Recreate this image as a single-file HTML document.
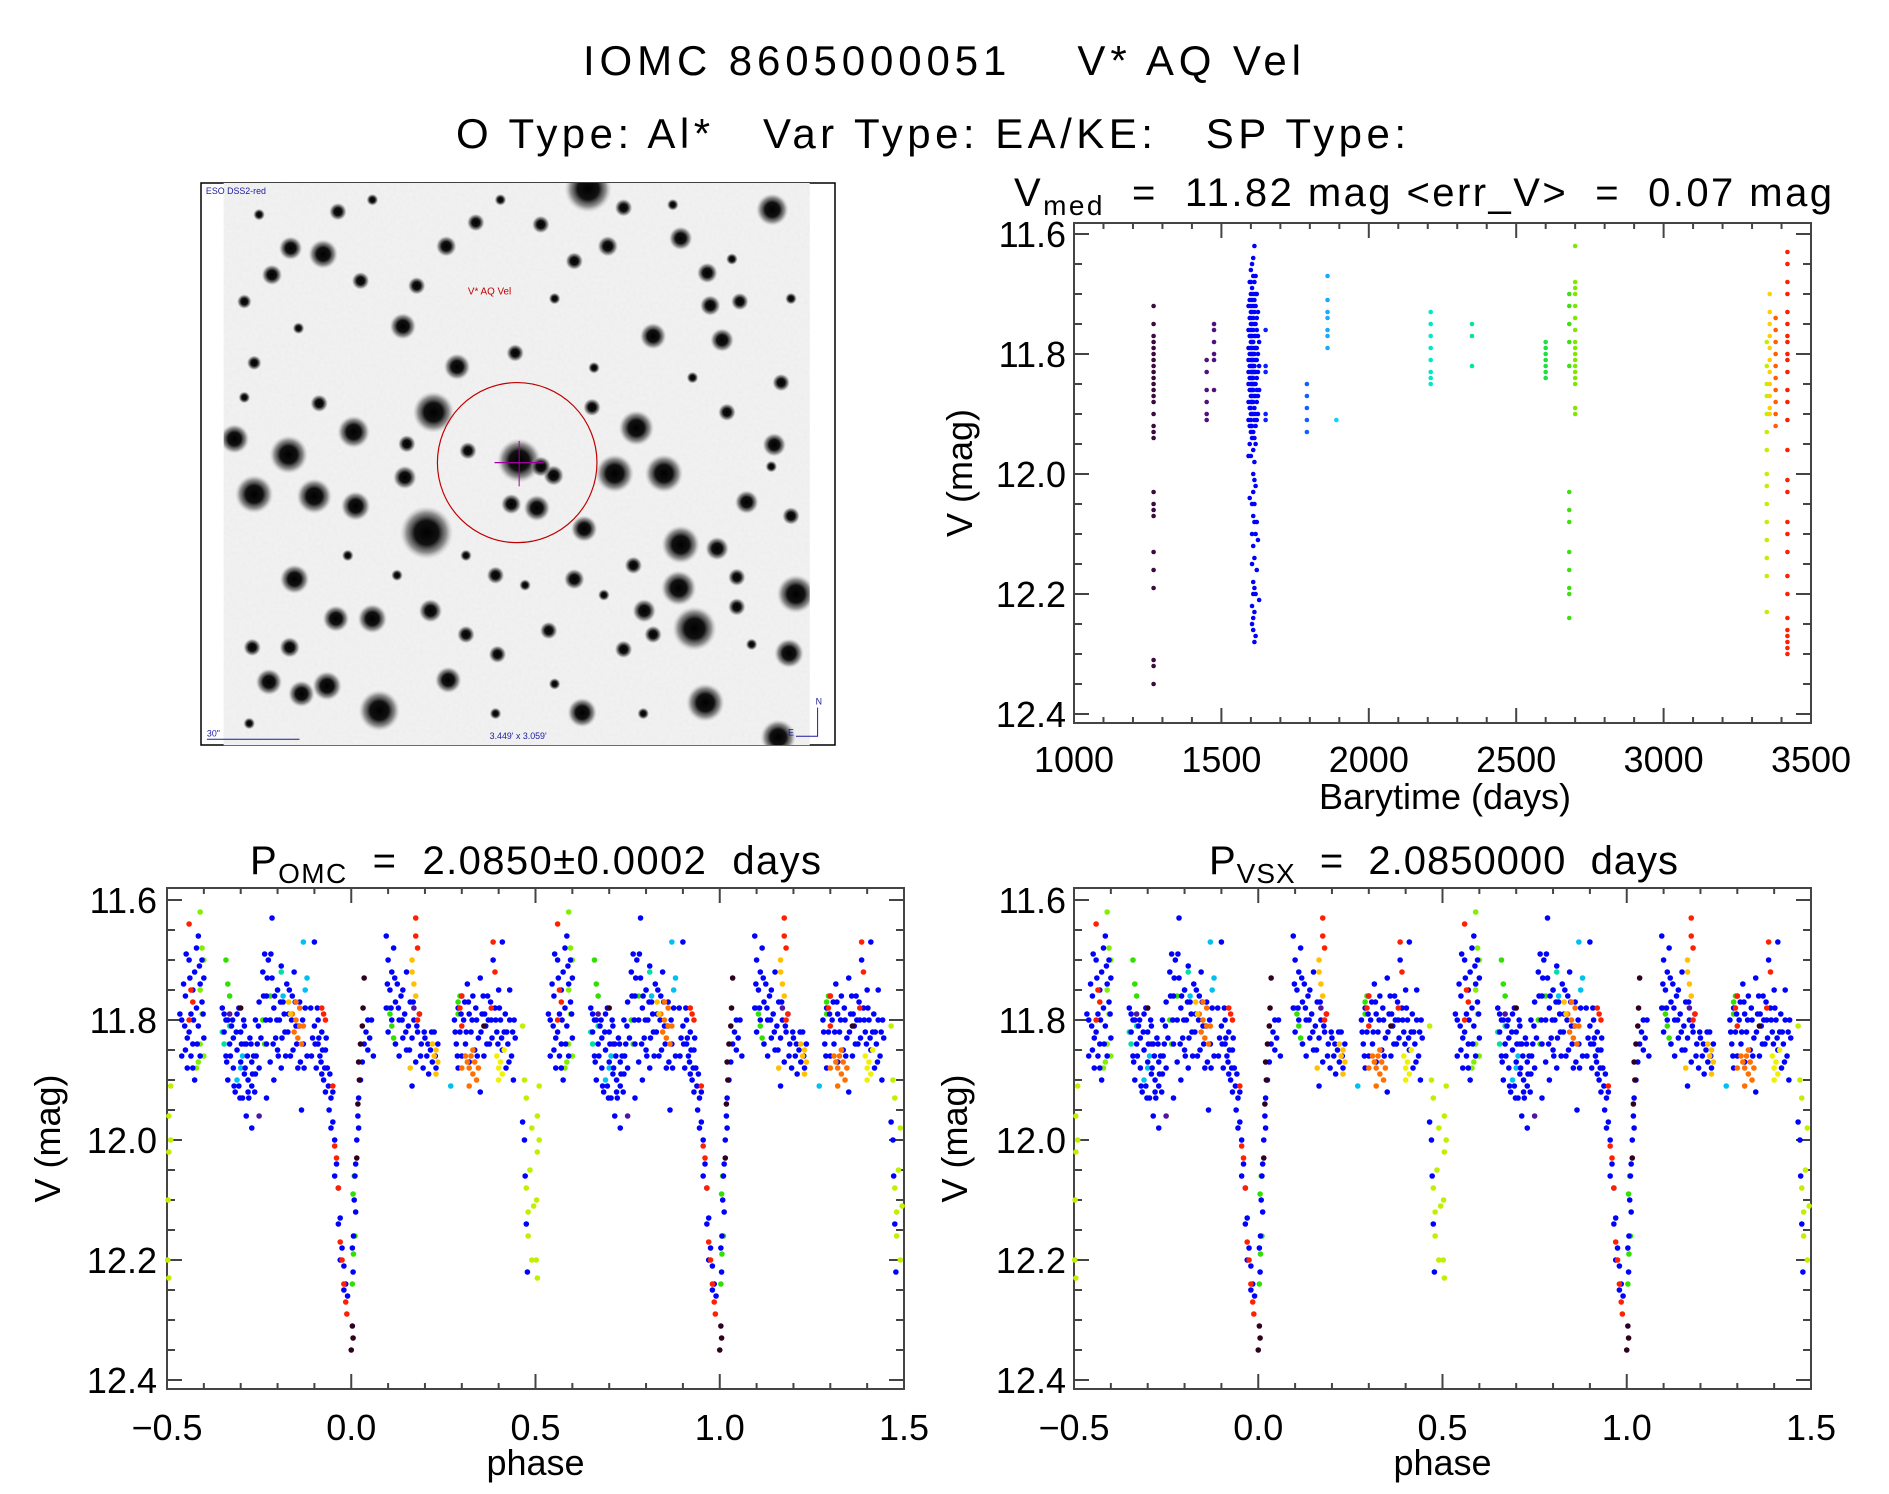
<!DOCTYPE html>
<html><head><meta charset="utf-8"><title>IOMC 8605000051 V* AQ Vel</title>
<style>
html,body{margin:0;padding:0;background:#fff;}
svg{display:block;font-family:"Liberation Sans",sans-serif;}
text{white-space:pre;}
</style></head>
<body>
<svg id="fig" width="1889" height="1494" viewBox="0 0 1889 1494" xmlns="http://www.w3.org/2000/svg">
<defs>
<radialGradient id="star"><stop offset="0" stop-color="#000"/><stop offset="0.45" stop-color="#111"/><stop offset="0.75" stop-color="#666" stop-opacity="0.7"/><stop offset="1" stop-color="#bbb" stop-opacity="0"/></radialGradient>
<filter id="grain" x="0" y="0" width="1" height="1" filterUnits="objectBoundingBox"><feTurbulence type="fractalNoise" baseFrequency="0.3" numOctaves="2" seed="3"/><feColorMatrix type="matrix" values="0 0 0 0 0.5  0 0 0 0 0.5  0 0 0 0 0.5  0 0 0 0.12 0"/></filter>
</defs>
<g font-size="42" fill="#000">
<text x="583" y="75" textLength="718" lengthAdjust="spacing" xml:space="preserve">IOMC 8605000051    V* AQ Vel</text>
<text x="456" y="148" textLength="950" lengthAdjust="spacing" xml:space="preserve">O Type: Al*   Var Type: EA/KE:   SP Type:</text>
</g>
<g id="sky"></g>
<g id="ts"></g>
<g id="ph1"></g>
<g id="ph2"></g>
</svg>
<script>
// ===== time series data =====
const tsTimes = [1270,1450,1475,1592,1596,1600,1604,1608,1612,1616,1620,1624,1628,1650,1790,1860,1890,2210,2350,2600,2680,2700,3350,3360,3380,3420];
const tsColors = ['#3c0a3c','#501080','#501080','#0000ff','#0000ff','#0000ff','#0000ff','#0000ff','#0000ff','#0000ff','#0000ff','#0000ff','#0000ff','#0a20ff','#1060ff','#20a8ff','#00d8ff','#00e8c8','#00e890','#20e040','#40e010','#80e800','#c0f000','#ffd000','#ff6000','#ff2000'];
const tsMags = [
[11.72,11.75,11.77,11.78,11.79,11.8,11.81,11.82,11.83,11.84,11.85,11.86,11.87,11.88,11.9,11.92,11.93,11.94,12.03,12.05,12.06,12.07,12.13,12.16,12.19,12.31,12.32,12.35],
[11.81,11.83,11.86,11.88,11.9,11.91],
[11.75,11.76,11.78,11.8,11.81,11.86],
[11.72,11.76,11.79,11.81,11.83,11.85,11.88,11.91,11.97],
[11.68,11.71,11.74,11.77,11.8,11.82,11.84,11.86,11.89,11.92,11.95,12.04],
[11.66,11.68,11.7,11.72,11.73,11.74,11.75,11.76,11.77,11.78,11.79,11.8,11.81,11.82,11.83,11.84,11.85,11.86,11.87,11.88,11.89,11.9,11.91,11.92,11.93,11.97],
[11.65,11.69,11.71,11.73,11.75,11.77,11.78,11.79,11.8,11.81,11.82,11.83,11.84,11.85,11.86,11.87,11.88,11.9,11.92,11.94,12.05,12.1,12.15,12.22,12.25],
[11.64,11.67,11.7,11.72,11.74,11.76,11.78,11.8,11.81,11.82,11.83,11.84,11.85,11.86,11.88,11.9,11.93,11.96,12.0,12.03,12.07,12.12,12.18,12.2,12.24,12.26],
[11.62,11.68,11.71,11.73,11.75,11.77,11.79,11.8,11.82,11.83,11.85,11.87,11.89,11.91,11.94,11.98,12.01,12.05,12.08,12.14,12.19,12.23,12.28],
[11.67,11.7,11.72,11.75,11.77,11.79,11.81,11.83,11.85,11.87,11.9,11.92,11.95,12.02,12.1,12.2,12.27],
[11.7,11.74,11.76,11.79,11.81,11.84,11.86,11.88,11.91,12.08,12.16],
[11.73,11.77,11.8,11.83,11.87,11.9,12.11],
[11.78,11.82,11.86,12.21],
[11.76,11.82,11.83,11.9,11.91],
[11.85,11.87,11.89,11.91,11.93],
[11.67,11.71,11.73,11.74,11.76,11.77,11.79],
[11.91],
[11.73,11.75,11.77,11.79,11.81,11.83,11.84,11.85],
[11.75,11.77,11.82],
[11.78,11.79,11.8,11.81,11.82,11.83,11.84],
[11.7,11.72,11.75,11.78,11.82,12.03,12.06,12.08,12.13,12.16,12.19,12.2,12.24],
[11.62,11.68,11.69,11.7,11.72,11.74,11.76,11.78,11.79,11.8,11.81,11.82,11.83,11.84,11.85,11.89,11.9],
[11.78,11.82,11.85,11.87,11.9,11.93,11.96,12.0,12.02,12.05,12.08,12.11,12.14,12.17,12.23],
[11.7,11.73,11.75,11.77,11.79,11.81,11.83,11.85,11.87,11.89,11.9],
[11.74,11.76,11.78,11.8,11.82,11.84,11.86,11.88,11.9,11.92],
[11.63,11.65,11.68,11.7,11.73,11.75,11.77,11.78,11.8,11.81,11.83,11.86,11.88,11.91,11.96,12.01,12.03,12.08,12.1,12.13,12.17,12.2,12.24,12.26,12.27,12.28,12.29,12.3]
];
const tsXTicks = [1000,1500,2000,2500,3000,3500];
const magTicks = [11.6,11.8,12.0,12.2,12.4];
const phaseTicks = [-0.5,0.0,0.5,1.0,1.5];
const phaseTickLabels = ['\u22120.5','0.0','0.5','1.0','1.5'];

// ===== phase data: [phase, mag] pairs per colour series =====
const phBlue = [[-0.46,11.80],[-0.455,11.74],[-0.45,11.76],[-0.45,11.85],[-0.445,11.88],[-0.44,11.70],[-0.44,11.82],[-0.435,11.79],[-0.435,11.86],[-0.43,11.75],[-0.43,11.84],[-0.425,11.72],[-0.425,11.90],[-0.42,11.68],[-0.42,11.78],[-0.415,11.66],[-0.415,11.81],[-0.41,11.74],[-0.41,11.86],[-0.405,11.70],[-0.405,11.77],[-0.40,11.73],[-0.40,11.83],[-0.43,11.88],[-0.445,11.83],
[-0.35,11.78],[-0.345,11.82],[-0.34,11.80],[-0.34,11.86],[-0.335,11.90],[-0.33,11.84],[-0.325,11.81],[-0.32,11.88],[-0.315,11.92],[-0.31,11.79],[-0.31,11.85],[-0.305,11.91],[-0.30,11.82],[-0.30,11.87],[-0.295,11.93],[-0.29,11.81],[-0.29,11.89],[-0.285,11.84],[-0.28,11.90],[-0.28,11.92],[-0.275,11.83],[-0.27,11.87],[-0.27,11.91],[-0.265,11.86],[-0.26,11.80],[-0.26,11.89],[-0.255,11.84],[-0.25,11.77],[-0.25,11.88],[-0.245,11.83],[-0.32,11.83],[-0.285,11.96],[-0.27,11.98],[-0.305,11.78],[-0.335,11.80],
[-0.24,11.72],[-0.235,11.69],[-0.23,11.76],[-0.23,11.84],[-0.225,11.70],[-0.22,11.80],[-0.22,11.87],[-0.215,11.73],[-0.21,11.78],[-0.21,11.90],[-0.205,11.83],[-0.20,11.75],[-0.20,11.85],[-0.195,11.80],[-0.19,11.88],[-0.185,11.77],[-0.18,11.82],[-0.175,11.74],[-0.17,11.79],[-0.165,11.86],[-0.16,11.76],[-0.155,11.72],[-0.15,11.81],[-0.145,11.88],[-0.14,11.77],[-0.135,11.95],[-0.13,11.84],[-0.125,11.78],[-0.12,11.86],[-0.215,11.63],[-0.19,11.71],[-0.23,11.93],
[-0.11,11.78],[-0.105,11.83],[-0.10,11.67],[-0.10,11.81],[-0.095,11.88],[-0.09,11.80],[-0.09,11.84],[-0.085,11.86],[-0.08,11.82],[-0.08,11.89],[-0.075,11.90],[-0.07,11.85],[-0.07,11.92],[-0.065,11.88],[-0.06,11.95],
[-0.055,11.93],[-0.05,11.97],[-0.045,12.00],[-0.04,12.04],[-0.035,12.08],[-0.03,12.13],[-0.025,12.18],[-0.02,12.21],[-0.015,12.24],[-0.01,12.26],[-0.055,11.98],[-0.045,12.06],[-0.035,12.14],[-0.03,12.20],[-0.02,12.25],[-0.05,11.92],
[0.003,12.18],[0.006,12.16],[0.008,12.10],[0.01,12.06],[0.012,12.04],[0.015,12.00],[0.018,11.96],[0.02,11.93],[0.025,11.90],[0.03,11.87],[0.035,11.84],[0.04,11.82],[0.045,11.80],[0.05,11.83],[0.055,11.80],[0.06,11.86],[0.005,12.22],[0.012,12.12],[0.02,11.98],[0.045,11.85],
[0.095,11.78],[0.1,11.70],[0.1,11.82],[0.105,11.75],[0.11,11.72],[0.11,11.80],[0.115,11.68],[0.12,11.77],[0.12,11.84],[0.125,11.74],[0.13,11.80],[0.13,11.86],[0.135,11.76],[0.14,11.83],[0.145,11.79],[0.15,11.72],[0.15,11.85],[0.155,11.81],[0.16,11.77],[0.165,11.83],[0.17,11.80],[0.175,11.87],[0.18,11.82],[0.185,11.79],[0.19,11.84],[0.195,11.88],[0.2,11.83],[0.205,11.86],[0.21,11.89],[0.215,11.85],[0.22,11.87],[0.225,11.82],[0.23,11.88],[0.235,11.84],[0.165,11.91],[0.095,11.66],[0.14,11.75],
[0.28,11.80],[0.285,11.84],[0.29,11.78],[0.29,11.88],[0.295,11.82],[0.30,11.76],[0.30,11.86],[0.305,11.80],[0.31,11.84],[0.315,11.74],[0.32,11.79],[0.32,11.87],[0.325,11.82],[0.33,11.76],[0.335,11.85],[0.34,11.80],[0.345,11.83],[0.35,11.73],[0.355,11.79],[0.36,11.86],[0.365,11.81],[0.37,11.76],[0.375,11.84],[0.38,11.80],[0.385,11.70],[0.39,11.78],[0.395,11.82],[0.40,11.75],[0.405,11.80],[0.41,11.85],[0.415,11.82],[0.42,11.88],[0.425,11.84],[0.43,11.80],[0.435,11.86],[0.44,11.90],[0.445,11.83],[0.41,11.67],[0.35,11.92],[0.43,11.75],
[0.47,12.0],[0.472,12.06],[0.475,12.14],[0.478,12.22],[0.465,11.97]];
const phBlueExtra = [[-0.465,11.79],[-0.46,11.86],[-0.452,11.81],[-0.448,11.69],[-0.438,11.73],[-0.428,11.80],[-0.418,11.84],[-0.412,11.71],[-0.402,11.79],
[-0.345,11.79],[-0.338,11.87],[-0.328,11.86],[-0.322,11.80],[-0.318,11.91],[-0.312,11.82],[-0.302,11.93],[-0.298,11.84],[-0.292,11.80],[-0.288,11.88],[-0.282,11.86],[-0.278,11.93],[-0.272,11.84],[-0.268,11.89],[-0.262,11.92],[-0.258,11.86],[-0.252,11.81],
[-0.238,11.76],[-0.232,11.80],[-0.228,11.73],[-0.218,11.69],[-0.212,11.84],[-0.208,11.76],[-0.202,11.80],[-0.198,11.86],[-0.192,11.77],[-0.188,11.83],[-0.182,11.79],[-0.178,11.86],[-0.172,11.82],[-0.168,11.75],[-0.162,11.80],[-0.158,11.85],[-0.152,11.77],[-0.148,11.84],[-0.142,11.81],[-0.138,11.87],[-0.132,11.80],[-0.128,11.88],
[-0.108,11.86],[-0.098,11.84],[-0.092,11.78],[-0.088,11.83],[-0.082,11.87],[-0.078,11.85],[-0.072,11.88],[-0.068,11.83],[-0.062,11.91],[-0.058,11.89],
[0.098,11.74],[0.108,11.78],[0.118,11.73],[0.128,11.78],[0.138,11.80],[0.148,11.82],[0.158,11.85],[0.168,11.77],[0.178,11.81],[0.188,11.86],[0.198,11.82],[0.208,11.84],[0.218,11.82],[0.228,11.86],
[0.282,11.82],[0.288,11.86],[0.298,11.79],[0.308,11.77],[0.312,11.82],[0.318,11.77],[0.328,11.80],[0.338,11.78],[0.342,11.86],[0.352,11.82],[0.358,11.76],[0.362,11.79],[0.368,11.84],[0.372,11.80],[0.378,11.77],[0.382,11.83],[0.392,11.80],[0.398,11.84],[0.402,11.78],[0.408,11.83],[0.418,11.79],[0.422,11.82],[0.428,11.87],[0.438,11.82],[0.442,11.80]];
const phRed = [[-0.44,11.64],[-0.435,11.75],[-0.43,11.77],[-0.44,11.80],[-0.08,11.78],[-0.075,11.79],[-0.07,11.80],[-0.05,11.91],[-0.045,12.01],[-0.04,12.03],[-0.035,12.08],[-0.03,12.17],[-0.025,12.2],[-0.02,12.24],[-0.015,12.27],[-0.012,12.29],[0.175,11.63],[0.175,11.66],[0.18,11.68],[0.18,11.8],[0.185,11.79],[0.295,11.78],[0.3,11.81],[0.30,11.76],[0.385,11.67],[0.39,11.72],[0.38,11.78]];
const phOrange = [[-0.16,11.79],[-0.155,11.82],[-0.15,11.80],[-0.145,11.83],[-0.14,11.81],[-0.135,11.84],[-0.13,11.81],[-0.15,11.77],[-0.14,11.78],[0.31,11.86],[0.315,11.87],[0.32,11.88],[0.325,11.86],[0.33,11.89],[0.335,11.87],[0.34,11.90],[0.32,11.91],[0.33,11.85],[0.3,11.88],[0.345,11.88]];
const phGold = [[-0.17,11.77],[-0.165,11.79],[0.165,11.72],[0.17,11.74],[0.175,11.76],[0.165,11.7],[0.22,11.84],[0.225,11.86],[0.23,11.85],[0.235,11.87],[0.23,11.89],[0.16,11.88]];
const phYellow = [[0.395,11.86],[0.4,11.88],[0.405,11.87],[0.41,11.89],[0.4,11.9],[0.415,11.85]];
const phYellowGreen = [[-0.495,11.96],[-0.495,12.02],[-0.497,12.1],[-0.498,12.2],[0.47,11.9],[0.475,12.08],[0.48,12.12],[0.465,11.81],[0.475,11.93],[0.48,12.16],[0.485,12.05],[0.49,11.98],[0.49,12.2],[0.495,12.11],[-0.49,11.91],[-0.49,12.0],[-0.495,12.23]];
const phLime = [[-0.41,11.62],[-0.405,11.68],[-0.4,11.7],[-0.405,11.79],[-0.41,11.84],[-0.415,11.87],[-0.42,11.88],[-0.4,11.86],[-0.41,11.75]];
const phGreen = [[-0.34,11.7],[-0.335,11.74],[-0.33,11.76],[-0.24,11.8],[-0.235,11.84],[-0.22,11.76],[0.005,12.09],[0.008,12.06],[0.01,12.16],[0.006,12.19],[0.003,12.24],[0.105,11.79],[0.11,11.81],[0.115,11.83],[0.12,11.84],[0.1,11.78],[0.29,11.77],[0.295,11.76],[0.29,11.79]];
const phTeal = [[-0.35,11.82],[-0.345,11.84],[-0.33,11.81],[-0.19,11.72],[-0.2,11.75]];
const phSky = [[-0.13,11.67],[-0.125,11.75],[-0.12,11.73],[-0.3,11.88],[-0.295,11.86],[0.27,11.91],[-0.185,11.76],[-0.31,11.90]];
const phDark = [[0.005,12.33],[0.0,12.35],[0.003,12.31],[0.02,11.87],[0.025,11.84],[0.03,11.81],[0.032,11.78],[0.035,11.73],[0.015,12.03],[0.018,11.94],[-0.3,11.78],[0.36,11.81],[0.022,11.9]];
const phPurple = [[-0.33,11.79],[-0.29,11.84],[-0.25,11.96],[0.17,11.78]];

const NS='http://www.w3.org/2000/svg';
function mk(tag, attrs, parent){const e=document.createElementNS(NS,tag);for(const k in attrs)e.setAttribute(k,attrs[k]);parent.appendChild(e);return e;}

function axes(g, L, T, R, B, yOf, xOf, xMaj, xMinStep, xMin, xMax, xLabels, ylabelX, xlabel, xlabelX, xlabelY, xtickY, ytickRight){
  const ax = mk('rect',{x:L,y:T,width:R-L,height:B-T,fill:'none',stroke:'#444','stroke-width':2},g);
  
  
  for(let m=11.6; m<=12.4001; m+=0.05){
    const y=yOf(m); const major = Math.abs((m-11.6)/0.2 - Math.round((m-11.6)/0.2))<1e-6;
    const len = major?15:8;
    mk('line',{x1:L,x2:L+len,y1:y,y2:y,stroke:'#444','stroke-width':2},g);
    mk('line',{x1:R,x2:R-len,y1:y,y2:y,stroke:'#444','stroke-width':2},g);
  }
  magTicks.forEach(m=>{
    const t=mk('text',{x:ytickRight,y:yOf(m)+13,'font-size':36,'text-anchor':'end'},g);
    t.textContent=m.toFixed(1);
    
    
  });
  for(let v=xMin; v<=xMax+1e-6; v+=xMinStep){
    const x=xOf(v); const major = xMaj.some(q=>Math.abs(q-v)<1e-6);
    const len = major?15:6;
    mk('line',{x1:x,x2:x,y1:B,y2:B-len,stroke:'#444','stroke-width':2},g);
    mk('line',{x1:x,x2:x,y1:T,y2:T+len,stroke:'#444','stroke-width':2},g);
  }
  xMaj.forEach((v,i)=>{
    const t=mk('text',{x:xOf(v),y:xtickY,'font-size':36,'text-anchor':'middle'},g);
    t.textContent=xLabels[i];
    
    
  });
  const yl=mk('text',{x:0,y:0,'font-size':36,'text-anchor':'middle',transform:`translate(${ylabelX},${(T+B)/2}) rotate(-90)`},g);
  yl.textContent='V (mag)';
  
  
  const xl=mk('text',{x:xlabelX,y:xlabelY,'font-size':36,'text-anchor':'middle'},g);
  xl.textContent=xlabel;
  
  
}

(function(){
  const g=document.getElementById('ts');
  const L=1074,R=1811,T=223,B=723;
  const xOf=t=>L+(t-1000)*(R-L)/2500;
  const yOf=m=>234+(m-11.6)*600;
  const tt=mk('text',{x:1014,y:206,'font-size':40},g);
  
  
  tt.innerHTML='V<tspan font-size="28" dy="9">med</tspan><tspan dy="-9">  =  11.82 mag &lt;err_V&gt;  =  0.07 mag</tspan>';
  tt.setAttribute('textLength','818');
  axes(g,L,T,R,B,yOf,xOf,tsXTicks,100,1000,3500,tsXTicks.map(String),972,'Barytime (days)',1445,809,772,1066);
  tsTimes.forEach((t,i)=>{
    tsMags[i].forEach(m=>{
      const c=mk('circle',{cx:xOf(t),cy:yOf(m),r:2.3,fill:tsColors[i]},g);
      
      
    });
  });
})();

const phaseSeries=[[phPurple,'#5014a0'],[phTeal,'#00e0a0'],[phSky,'#00c0f0'],[phGreen,'#30e000'],[phLime,'#80f000'],[phYellowGreen,'#c0f000'],[phBlue,'#0000ff'],[phBlueExtra,'#0000ff'],[phOrange,'#ff7000'],[phGold,'#ffc000'],[phYellow,'#f0f000'],[phRed,'#ff2000'],[phDark,'#300020']];
function phasePanel(id,L,R,titleX,titleHTML,titleLen,ylabelX,ytickRight){
  const g=document.getElementById(id);
  const T=888,B=1389;
  const xOf=p=>L+(p+0.5)*(R-L)/2;
  const yOf=m=>900+(m-11.6)*600;
  const tt=mk('text',{x:titleX,y:874,'font-size':40},g);
  
  
  tt.innerHTML=titleHTML;
  tt.setAttribute('textLength',titleLen);
  axes(g,L,T,R,B,yOf,xOf,phaseTicks,0.1,-0.5,1.5,phaseTickLabels,ylabelX,'phase',(L+R)/2,1475,1440,ytickRight);
  phaseSeries.forEach(([pts,col])=>{
    pts.forEach(([p,m])=>{
      [p,p+1].forEach(pp=>{
        if(pp<-0.5||pp>1.5) return;
        const c=mk('circle',{cx:xOf(pp),cy:yOf(m),r:2.8,fill:col},g);
        
        
      });
    });
  });
}
phasePanel('ph1',167,904,250,'P<tspan font-size="28" dy="9">OMC</tspan><tspan dy="-9">  =  2.0850±0.0002  days</tspan>',571,60,157);
phasePanel('ph2',1074,1811,1209,'P<tspan font-size="28" dy="9">VSX</tspan><tspan dy="-9">  =  2.0850000  days</tspan>',469,967,1066);

(function(){
  const g0=document.getElementById('sky');
  const fr=mk('rect',{x:201,y:183,width:634,height:562,fill:'#fff',stroke:'#000','stroke-width':1.5},g0);
  
  
  const g=mk('g',{transform:'translate(201,183) scale(0.985,0.988) translate(-201,-183)'},g0);
  mk('rect',{x:224,y:183,width:595,height:569,fill:'#f3f3f3'},g);
  mk('rect',{x:224,y:183,width:595,height:569,filter:'url(#grain)'},g);
  const cl=mk('clipPath',{id:'skyclip'},g);
  mk('rect',{x:224,y:183,width:595,height:569},cl);
  const sg=mk('g',{'clip-path':'url(#skyclip)'},g);
  const stars=[[594,189,16],[781,210,11],[325,255,10],[292,249,8],[273,276,7],[450,247,7],[688,239,8],[406,328,9],[461,369,9],[660,338,9],[730,342,8],[437,415,14],[356,435,11],[290,458,13],[235,442,10],[643,431,12],[524,464,15],[621,477,13],[671,477,13],[255,498,13],[316,500,12],[358,510,10],[408,481,8],[430,537,18],[542,512,9],[559,479,7],[590,533,9],[688,549,13],[725,553,8],[686,593,12],[805,599,13],[702,634,15],[798,659,10],[755,506,8],[783,448,8],[296,584,10],[338,624,9],[375,624,10],[434,616,8],[270,688,9],[329,692,10],[303,700,9],[382,717,14],[452,686,9],[588,719,10],[713,709,13],[787,744,12],[554,636,6],[651,616,8],[291,653,7],[253,653,6],[715,274,7],[718,307,7],[630,208,6],[480,223,6],[340,212,6],[546,225,6],[614,247,7],[520,355,6],[735,415,6],[748,303,6],[598,410,6],[472,454,6],[410,447,6],[255,365,5],[321,406,6],[245,303,5],[500,580,6],[580,584,7],[630,655,6],[660,640,6],[470,640,6],[502,660,6],[745,612,6],[800,520,6],[790,385,6],[546,470,7],[516,508,7],[580,262,6],[420,287,6],[363,282,6],[745,582,6],[640,570,6],[260,215,4],[375,200,4],[505,200,4],[680,205,4],[740,260,4],[800,300,4],[560,300,4],[300,330,4],[245,400,4],[600,370,4],[700,380,4],[780,470,4],[470,560,4],[530,590,4],[610,600,4],[760,650,4],[560,690,4],[500,720,4],[650,720,4],[250,730,4],[350,560,4],[400,580,4]];
  stars.forEach(([x,y,r])=>{ mk('circle',{cx:x,cy:y,r:r*1.5,fill:'url(#star)'},sg); });
  const circ=mk('circle',{cx:522,cy:466,r:81,fill:'none',stroke:'#c00000','stroke-width':1.2},g);
  
  
  mk('line',{x1:499,x2:549,y1:466,y2:466,stroke:'#a000a0','stroke-width':1.2},g);
  mk('line',{x1:524,x2:524,y1:444,y2:490,stroke:'#a000a0','stroke-width':1},g);
  const lbl=mk('text',{x:472,y:296,'font-size':10,fill:'#c00000'},g);
  lbl.textContent='V* AQ Vel';
  
  
  const s=mk('text',{x:206,y:194,'font-size':9,fill:'#1a1aa0'},g);
  s.textContent='ESO DSS2-red';
  
  
  const sc=mk('text',{x:207,y:743,'font-size':9,fill:'#1a1aa0'},g);
  sc.textContent='30"';
  
  
  mk('line',{x1:207,x2:301,y1:746,y2:746,stroke:'#1a1aa0','stroke-width':1},g);
  const fov=mk('text',{x:523,y:746,'font-size':9,fill:'#1a1aa0','text-anchor':'middle'},g);
  fov.textContent="3.449' x 3.059'";
  
  
  mk('path',{d:'M827 714 L827 743 L805 743',fill:'none',stroke:'#1a1aa0','stroke-width':1},g);
  const n=mk('text',{x:825,y:711,'font-size':9,fill:'#1a1aa0'},g); n.textContent='N';
  
  
  const e=mk('text',{x:797,y:742,'font-size':9,fill:'#1a1aa0'},g); e.textContent='E';
  
  
})();
</script>
</body></html>
